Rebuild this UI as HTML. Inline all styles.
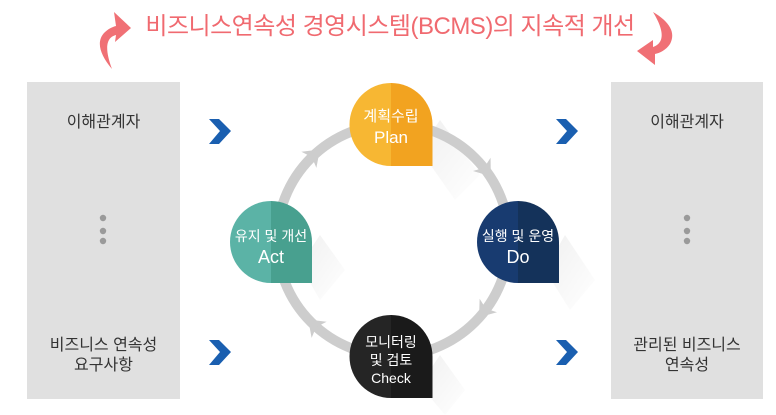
<!DOCTYPE html>
<html><head><meta charset="utf-8">
<style>
html,body{margin:0;padding:0;background:#fff;}
body{width:776px;height:415px;position:relative;overflow:hidden;font-family:"Liberation Sans","Noto Sans CJK KR",sans-serif;}
.t{position:absolute;text-align:center;color:#333;}
</style></head><body>
<svg width="776" height="415" style="position:absolute;left:0;top:0">
<defs>
<linearGradient id="sh" x1="0" y1="0" x2="1" y2="1">
<stop offset="0" stop-color="#000" stop-opacity="0.06"/>
<stop offset="1" stop-color="#000" stop-opacity="0"/>
</linearGradient>
</defs>
<rect x="27" y="82" width="153" height="317" fill="#e0e0e0"/>
<rect x="611" y="82" width="152" height="317" fill="#e0e0e0"/>
<g fill="#9a9a9a">
<circle cx="103" cy="218" r="3.2"/><circle cx="103" cy="231" r="3.2"/><circle cx="103" cy="241" r="3.2"/>
<circle cx="687" cy="218" r="3.2"/><circle cx="687" cy="231" r="3.2"/><circle cx="687" cy="241" r="3.2"/>
</g>
<g fill="#1a5fb0">
<path d="M209 119 L219 119 L231 131 L219 144 L209 144 L220 131 Z"/>
<path d="M209 340 L219 340 L231 352 L219 365 L209 365 L220 352 Z"/>
<path d="M556 119 L566 119 L578 131 L566 144 L556 144 L567 131 Z"/>
<path d="M556 340 L566 340 L578 352 L566 365 L556 365 L567 352 Z"/>
</g>
<path d="M112 69 C100 55 96 42 104 33 C108 29 112 27 116 26 L114 12 L131 28 L115 42 L116 35 C108 37 103 45 112 69 Z" fill="#f07075"/>
<path d="M653 12 C670 22 676 33 670 44 C666 50 660 53 655 54 L655 65 L637 51 L653 40 L653 47 C662 44 667 35 653 12 Z" fill="#f07075"/>
<path d="M420 150 L440 120 L480 175 L455 200 Z" fill="url(#sh)"/>
<path d="M300 265 L320 235 L345 270 L320 300 Z" fill="url(#sh)"/>
<path d="M545 270 L565 235 L595 280 L570 310 Z" fill="url(#sh)"/>
<path d="M420 385 L440 355 L465 390 L445 415 Z" fill="url(#sh)"/>
<circle cx="393" cy="240" r="116" fill="none" stroke="#cdcdcd" stroke-width="10"/>
<g fill="#cdcdcd">
<path d="M8 0 L-7 -11 L-3 0 L-7 11 Z" transform="translate(486,170) rotate(53)"/>
<path d="M8 0 L-7 -11 L-3 0 L-7 11 Z" transform="translate(484,311) rotate(128)"/>
<path d="M8 0 L-7 -11 L-3 0 L-7 11 Z" transform="translate(314,325) rotate(223)"/>
<path d="M8 0 L-7 -11 L-3 0 L-7 11 Z" transform="translate(314,155) rotate(-43)"/>
</g>
<g>
<path d="M391 83 A41.5 41.5 0 0 0 349.5 124.5 A41.5 41.5 0 0 0 391 166 Z" fill="#f7b733"/>
<path d="M391 83 A41.5 41.5 0 0 1 432.5 124.5 L432.5 166 L391 166 Z" fill="#f2a320"/>
<path d="M271 201 A41 41 0 0 0 230 242 A41 41 0 0 0 271 283 Z" fill="#5bb3a6"/>
<path d="M271 201 A41 41 0 0 1 312 242 L312 283 L271 283 Z" fill="#48a08f"/>
<path d="M518 201 A41 41 0 0 0 477 242 A41 41 0 0 0 518 283 Z" fill="#183b70"/>
<path d="M518 201 A41 41 0 0 1 559 242 L559 283 L518 283 Z" fill="#14325a"/>
<path d="M391 315 A41.5 41.5 0 0 0 349.5 356.5 A41.5 41.5 0 0 0 391 398 Z" fill="#252525"/>
<path d="M391 315 A41.5 41.5 0 0 1 432.5 356.5 L432.5 398 L391 398 Z" fill="#1a1a1a"/>
</g>
</svg>
<div class="t" style="left:130px;top:6px;width:520px;font-size:24px;color:#f06a70;letter-spacing:-0.5px;">비즈니스연속성 경영시스템(BCMS)의 지속적 개선</div>
<div class="t" style="left:27px;top:108px;width:153px;font-size:16px;">이해관계자</div>
<div class="t" style="left:27px;top:336px;width:153px;font-size:16px;line-height:20px;">비즈니스 연속성<br>요구사항</div>
<div class="t" style="left:611px;top:108px;width:152px;font-size:16px;">이해관계자</div>
<div class="t" style="left:611px;top:336px;width:152px;font-size:16px;line-height:20px;">관리된 비즈니스<br>연속성</div>
<div class="t" style="left:341px;top:106px;width:100px;font-size:15px;color:#fff;line-height:21px;">계획수립<br><span style="font-size:17px">Plan</span></div>
<div class="t" style="left:221px;top:226px;width:100px;font-size:14px;color:#fff;line-height:21px;">유지 및 개선<br><span style="font-size:18px">Act</span></div>
<div class="t" style="left:468px;top:226px;width:100px;font-size:14px;color:#fff;line-height:21px;">실행 및 운영<br><span style="font-size:18px">Do</span></div>
<div class="t" style="left:341px;top:333px;width:100px;font-size:14px;color:#fff;line-height:18px;">모니터링<br>및 검토<br><span style="font-size:14px">Check</span></div>
</body></html>
